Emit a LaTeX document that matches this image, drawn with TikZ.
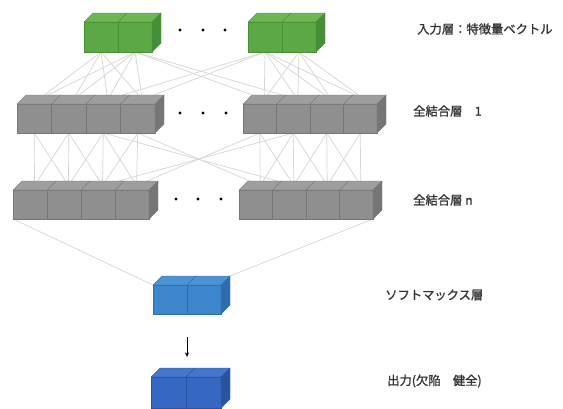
\documentclass[tikz,border=0pt]{standalone}
\usepackage{fontspec}
\newfontfamily\jpfont[AutoFakeBold=1.2]{Noto Sans CJK JP}
\usetikzlibrary{arrows.meta,backgrounds}

\definecolor{grnfront}{HTML}{5CA846}
\definecolor{grntop}{HTML}{6DB653}
\definecolor{grnside}{HTML}{458F36}
\definecolor{gryfront}{HTML}{8F8F8F}
\definecolor{grytop}{HTML}{9E9E9E}
\definecolor{gryside}{HTML}{767676}
\definecolor{smfront}{HTML}{3D86CB}
\definecolor{smtop}{HTML}{4C92D4}
\definecolor{smside}{HTML}{2E6CAE}
\definecolor{outfront}{HTML}{3667C2}
\definecolor{outtop}{HTML}{4576CC}
\definecolor{outside}{HTML}{2A549F}
\definecolor{linkgray}{HTML}{DAD2D2}

% a row of cubes: name, x, y, count, width, height, front, top, side
\newcommand{\cuberow}[9]{%
  \foreach \k in {1,...,#4}{
    \pgfmathsetmacro{\xa}{#2+(\k-1)*#5}
    \pgfmathsetmacro{\xb}{#2+\k*#5}
    \filldraw[fill=#7, draw=#9, line width=0.3pt] (\xa,#3) rectangle (\xb,#3+#6);
    \filldraw[fill=#8, draw=#9, line width=0.3pt] (\xa,#3) -- (\xa+9,#3-9) -- (\xb+9,#3-9) -- (\xb,#3) -- cycle;
    \coordinate (#1-\k-t) at ({(\xa+\xb)/2+4.5},#3-4.5);
    \coordinate (#1-\k-b) at ({(\xa+\xb)/2},#3+#6);
  }
  \pgfmathsetmacro{\xr}{#2+#4*#5}
  \filldraw[fill=#9, draw=#9, line width=0.3pt] (\xr,#3) -- (\xr+9,#3-9) -- (\xr+9,#3+#6-9) -- (\xr,#3+#6) -- cycle;
  \coordinate (#1-bl) at (#2,#3+#6);
  \coordinate (#1-br) at (\xr,#3+#6);
  \coordinate (#1-tl) at (#2,#3);
  \coordinate (#1-tr) at (\xr+9,#3-9);
}

\begin{document}
\begin{tikzpicture}[
  x=0.03cm, y=-0.03cm,
  link/.style={draw=linkgray, line width=0.6pt},
  lbl/.style={anchor=west, inner sep=0pt, text=black!80, font=\jpfont\bfseries\fontsize{10.5}{12}\selectfont},
  dot/.style={fill=black}
]
\useasboundingbox (0,0) rectangle (563,408);

% layers
\cuberow{inL}{84}{22}{2}{34}{30}{grnfront}{grntop}{grnside}
\cuberow{inR}{248}{22}{2}{34}{30}{grnfront}{grntop}{grnside}
\cuberow{hoL}{17}{104}{4}{34.5}{29}{gryfront}{grytop}{gryside}
\cuberow{hoR}{243}{104}{4}{33.5}{29}{gryfront}{grytop}{gryside}
\cuberow{hnL}{13}{190}{4}{34}{29}{gryfront}{grytop}{gryside}
\cuberow{hnR}{239}{190}{4}{33.5}{29}{gryfront}{grytop}{gryside}
\cuberow{sm}{153}{285}{2}{34}{29}{smfront}{smtop}{smside}
\cuberow{out}{151}{377}{2}{35}{31}{outfront}{outtop}{outside}

% dots
\foreach \x in {180,203,225} \fill[dot] (\x,30) circle (1.3pt);
\foreach \x in {180,203,226} \fill[dot] (\x,113) circle (1.3pt);
\foreach \x in {176,198,221} \fill[dot] (\x,199) circle (1.3pt);

% connections
\begin{scope}[on background layer]
\foreach \i in {1,2}
  \foreach \j in {1,...,4} {
    \draw[link] (inL-\i-b) -- (hoL-\j-t);
    \draw[link] (inR-\i-b) -- (hoR-\j-t);
  }
\draw[link] (inL-2-b) -- (hoR-1-t);
\draw[link] (inL-2-b) -- (hoR-2-t);
\draw[link] (inR-1-b) -- (hoL-3-t);
\draw[link] (inR-1-b) -- (hoL-4-t);
\foreach \i/\j in {1/1,1/2,2/1,2/2,2/3,3/2,3/3,3/4,4/3,4/4} {
  \draw[link] (hoL-\i-b) -- (hnL-\j-t);
  \draw[link] (hoR-\i-b) -- (hnR-\j-t);
}
\draw[link] (hoL-4-b) -- (hnR-1-t);
\draw[link] (hoL-3-b) -- (hnR-2-t);
\draw[link] (hoR-1-b) -- (hnL-4-t);
\draw[link] (hoR-2-b) -- (hnL-3-t);
\draw[link] (hnL-bl) -- (sm-tl);
\draw[link] (hnR-br) -- (sm-tr);
\end{scope}

\coordinate (arrS) at (187,337);
\coordinate (arrE) at (187,357);
\draw[-{Stealth[length=4pt,width=3.5pt]}, line width=0.7pt] (arrS) -- (arrE);

% Annotations
\node[lbl] (lblin) at (417,29) {入力層：特徴量ベクトル};
\node[lbl] (lblho) at (413,111) {全結合層　1};
\node[lbl] (lblhn) at (413,200) {全結合層 n};
\node[lbl] (lblsm) at (385,295) {ソフトマックス層};
\node[lbl] (lblout) at (387,381) {出力(欠陥　健全)};
\end{tikzpicture}
\end{document}
